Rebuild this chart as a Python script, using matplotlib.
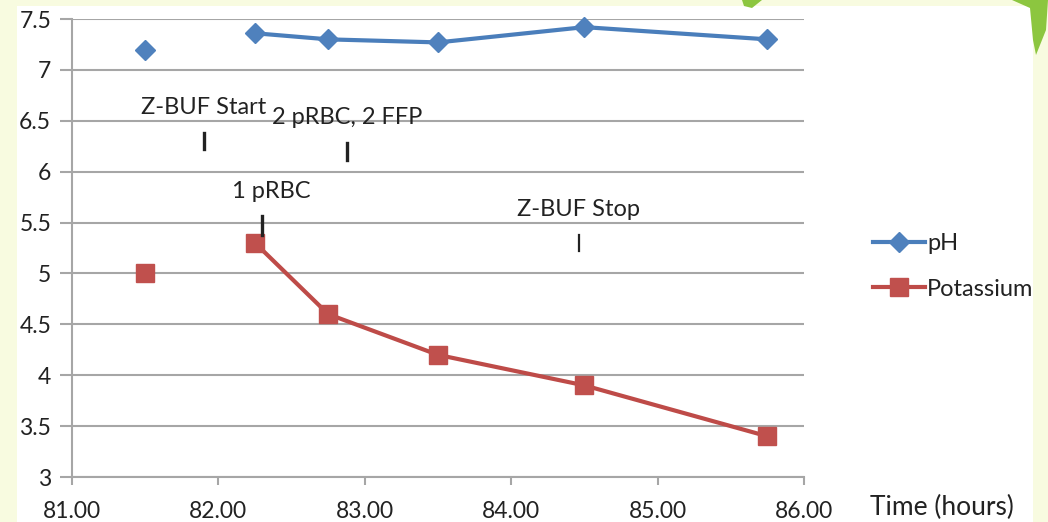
import numpy as np
import matplotlib.pyplot as plt
from matplotlib.patches import Rectangle, Polygon

# Time (hours) and measurements; NaN breaks the line after the first reading
time_h = [81.5, np.nan, 82.25, 82.75, 83.5, 84.5, 85.75]
ph = [7.20, np.nan, 7.36, 7.30, 7.27, 7.42, 7.30]
potassium = [5.0, np.nan, 5.3, 4.6, 4.2, 3.9, 3.4]

# Clinical events: label, x position, marker top, marker bottom
events = ["Z-BUF Start", "2 pRBC, 2 FFP", "1 pRBC", "Z-BUF Stop"]
event_x = [81.90, 82.88, 82.30, 84.46]
event_top = [6.38, 6.28, 5.56, 5.38]
event_bottom = [6.22, 6.11, 5.38, 5.22]

x_ticks = [81, 82, 83, 84, 85, 86]
y_ticks = [3, 3.5, 4, 4.5, 5, 5.5, 6, 6.5, 7, 7.5]
y_labels = ["3", "3.5", "4", "4.5", "5", "5.5", "6", "6.5", "7", "7.5"]

plt.rcParams['font.family'] = ['Lato', 'DejaVu Sans']

fig = plt.figure(figsize=(10.48, 5.22), dpi=100)
fig.patch.set_facecolor('#f8fbe0')

# page background: white panel with green leaf accents
fig.patches.append(Rectangle((17 / 1048, 0), (1033 - 17) / 1048, 1 - 6 / 522,
                             transform=fig.transFigure, facecolor='white',
                             edgecolor='none', zorder=-10))
leaf1 = [(1012, 0), (1048, 0), (1046, 30), (1036, 55), (1033, 40), (1030, 8)]
leaf2 = [(742, 0), (762, 0), (752, 8), (744, 6)]
for pts in (leaf1, leaf2):
    fig.patches.append(Polygon([(x / 1048, 1 - y / 522) for x, y in pts],
                               closed=True, transform=fig.transFigure,
                               facecolor='#8cc63f', edgecolor='none', zorder=-9))

ax = fig.add_axes([72 / 1048, 1 - 477 / 522, (804 - 72) / 1048, (477 - 19) / 522])
ax.set_zorder(1)
ax.set_facecolor('none')
ax.set_xlim(81, 86)
ax.set_ylim(3, 7.5)

ax.plot(time_h, ph, color='#4a7ebb', lw=3, marker='D', ms=10,
        markerfacecolor='#4f81bd', markeredgecolor='#4f81bd', label='pH',
        zorder=4, clip_on=False)
ax.plot(time_h, potassium, color='#be4b48', lw=3, marker='s', ms=13,
        markerfacecolor='#c0504d', markeredgecolor='#c0504d', label='Potassium',
        zorder=4, clip_on=False)

label_shift = [0.0, 0.0, 0.06, 0.0]
marker_width = [2.4, 2.4, 2.4, 1.6]
for label, ex, top, bot, dx, mw in zip(events, event_x, event_top, event_bottom,
                                       label_shift, marker_width):
    ax.plot([ex, ex], [bot, top], color='#222222', lw=mw, zorder=5)
    ax.text(ex + dx, top + 0.25, label, ha='center', va='center', fontsize=17,
            color='#222222', zorder=6)

ax.set_xticks(x_ticks)
ax.set_xticklabels([f"{t:.2f}" for t in x_ticks])
ax.set_yticks(y_ticks)
ax.set_yticklabels(y_labels)
ax.grid(axis='y', color='#a6a6a6', lw=1.5)
ax.set_axisbelow(True)
for side in ('top', 'right'):
    ax.spines[side].set_visible(False)
for side in ('left', 'bottom'):
    ax.spines[side].set_color('#a6a6a6')
    ax.spines[side].set_linewidth(1.5)
ax.tick_params(axis='y', length=9, width=1.5, color='#a6a6a6', labelsize=16.5,
               labelcolor='#222222', pad=6)
ax.tick_params(axis='x', length=6, width=1.5, color='#a6a6a6', labelsize=16.5,
               labelcolor='#222222', pad=11)

fig.text(870 / 1048, 1 - 507 / 522, "Time (hours)", fontsize=19,
         color='#222222', ha='left', va='center')

leg = ax.legend(loc='center left', bbox_to_anchor=(1.065, 0.46), frameon=False,
                fontsize=17, handlelength=2.2, handletextpad=0.1,
                labelspacing=1.05, labelcolor='#222222')

fig.savefig('out.png', dpi=100, facecolor=fig.get_facecolor())
